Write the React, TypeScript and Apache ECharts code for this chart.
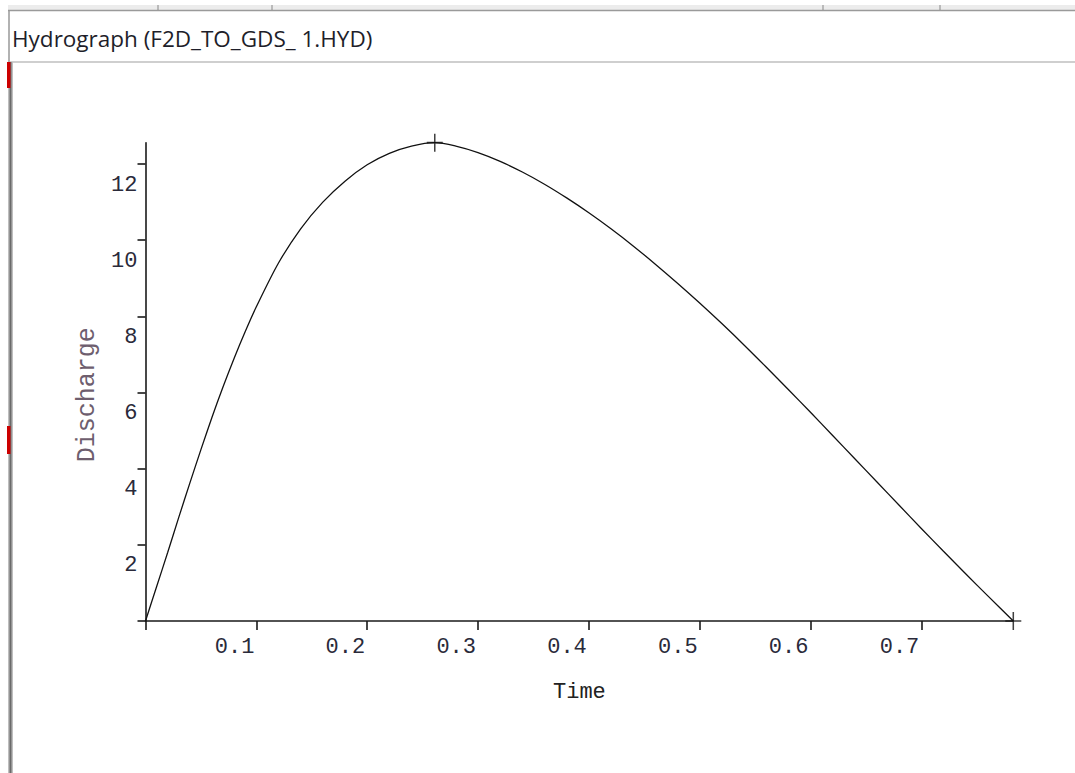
import React, { useEffect, useRef } from "react";
import * as echarts from "echarts";

const TITLE = "Hydrograph (F2D_TO_GDS_ 1.HYD)";
const X_NAME = "Time";
const Y_NAME = "Discharge";

const TIME = [
  0, 0.01, 0.02, 0.03, 0.04, 0.05, 0.06, 0.07, 0.08, 0.09, 0.1, 0.12, 0.14, 0.16, 0.18, 0.2, 0.22, 0.24,
  0.261, 0.28, 0.3, 0.32, 0.34, 0.36, 0.38, 0.4, 0.42, 0.44, 0.46, 0.48, 0.5, 0.52, 0.54, 0.56, 0.58, 0.6,
  0.62, 0.64, 0.66, 0.68, 0.7, 0.72, 0.74, 0.76, 0.783,
];
const DISCHARGE = [
  0, 0.9, 1.8, 2.72, 3.62, 4.5, 5.35, 6.15, 6.9, 7.6, 8.25, 9.4, 10.3, 11.0, 11.55, 11.98, 12.28, 12.47,
  12.56, 12.47, 12.3, 12.07, 11.79, 11.47, 11.11, 10.72, 10.3, 9.85, 9.37, 8.87, 8.35, 7.81, 7.25, 6.67, 6.08, 5.48,
  4.87, 4.26, 3.65, 3.04, 2.43, 1.83, 1.24, 0.66, 0,
];
const MARKER_TIME = [0.261, 0.783];
const MARKER_Q = [12.56, 0];

const X_TICKS = [0, 0.1, 0.2, 0.3, 0.4, 0.5, 0.6, 0.7];
const X_LABELS = [0.1, 0.2, 0.3, 0.4, 0.5, 0.6, 0.7];
const Y_TICKS = [0, 2, 4, 6, 8, 10, 12];
const Y_LABELS = [2, 4, 6, 8, 10, 12];
const X_MAX = 0.783;
const Y_MAX = 12.56;

const MONO = "'Liberation Mono', 'Courier New', monospace";

export default function App() {
  const ref = useRef<HTMLDivElement>(null);

  useEffect(() => {
    if (!ref.current) return;
    const chart = echarts.init(ref.current, undefined, { renderer: "svg" });
    const curve = TIME.map((t, i) => [t, DISCHARGE[i]]);
    const marks = MARKER_TIME.map((t, i) => [t, MARKER_Q[i]]);

    chart.setOption({
      animation: false,
      backgroundColor: "#ffffff",
      grid: { left: 145.5, top: 142.7, right: 61.7, bottom: 152, containLabel: false },
      xAxis: {
        type: "value",
        min: 0,
        max: X_MAX,
        name: X_NAME,
        nameLocation: "middle",
        nameGap: 60,
        nameTextStyle: { fontFamily: MONO, fontSize: 22, color: "#222222" },
        axisLine: { show: true, onZero: false, lineStyle: { color: "#1a1a1a", width: 1.6 } },
        axisTick: { show: true, length: 9, customValues: X_TICKS, lineStyle: { color: "#1a1a1a", width: 1.6 } },
        axisLabel: {
          customValues: X_LABELS,
          formatter: (v: number) => v.toFixed(1),
          align: "right",
          padding: [0, 2, 0, 0],
          margin: 15,
          fontFamily: MONO,
          fontSize: 22,
          color: "#2a2a3a",
        },
        splitLine: { show: false },
      },
      yAxis: {
        type: "value",
        min: 0,
        max: Y_MAX,
        name: Y_NAME,
        nameLocation: "middle",
        nameGap: 44,
        nameTextStyle: { fontFamily: MONO, fontSize: 25, color: "#6e5e6e", padding: [0, 26, 0, 0] },
        axisLine: { show: true, onZero: false, lineStyle: { color: "#1a1a1a", width: 1.6 } },
        axisTick: { show: true, length: 8, customValues: Y_TICKS, lineStyle: { color: "#1a1a1a", width: 1.6 } },
        axisLabel: {
          customValues: Y_LABELS,
          formatter: (v: number) => String(Math.round(v)),
          verticalAlign: "top",
          padding: [10, 0, 0, 0],
          margin: 8,
          fontFamily: MONO,
          fontSize: 22,
          color: "#2a2a3a",
        },
        splitLine: { show: false },
      },
      series: [
        {
          type: "line",
          data: curve,
          showSymbol: false,
          symbol: "none",
          smooth: 0.3,
          lineStyle: { color: "#111111", width: 1.3 },
          silent: true,
        },
        {
          type: "scatter",
          data: marks,
          symbol: "path://M8,0 L8,18 M0,9 L16,9",
          symbolSize: [16, 18],
          itemStyle: { color: "none", borderColor: "#111111", borderWidth: 1.6 },
          silent: true,
        },
      ],
      graphic: [
        { type: "rect", shape: { x: 8, y: 5, width: 1067, height: 5 }, style: { fill: "#ececec" }, silent: true },
        { type: "line", shape: { x1: 8, y1: 10.5, x2: 1075, y2: 10.5 }, style: { stroke: "#9a9a9a", lineWidth: 1.5 }, silent: true },
        { type: "line", shape: { x1: 158, y1: 5, x2: 158, y2: 10 }, style: { stroke: "#888888", lineWidth: 1 }, silent: true },
        { type: "line", shape: { x1: 272, y1: 5, x2: 272, y2: 10 }, style: { stroke: "#888888", lineWidth: 1 }, silent: true },
        { type: "line", shape: { x1: 823, y1: 5, x2: 823, y2: 10 }, style: { stroke: "#888888", lineWidth: 1 }, silent: true },
        { type: "line", shape: { x1: 940, y1: 5, x2: 940, y2: 10 }, style: { stroke: "#888888", lineWidth: 1 }, silent: true },
        { type: "line", shape: { x1: 9, y1: 10, x2: 9, y2: 62 }, style: { stroke: "#999999", lineWidth: 1.5 }, silent: true },
        { type: "line", shape: { x1: 10, y1: 62, x2: 1075, y2: 62 }, style: { stroke: "#a0a0a0", lineWidth: 1.2 }, silent: true },
        {
          type: "rect",
          shape: { x: 8, y: 62, width: 5, height: 711 },
          style: {
            fill: new echarts.graphic.LinearGradient(0, 0, 1, 0, [
              { offset: 0, color: "#d4d4d4" },
              { offset: 0.5, color: "#6a6a6a" },
              { offset: 1, color: "#d4d4d4" },
            ]),
          },
          silent: true,
        },
        { type: "rect", shape: { x: 7, y: 62, width: 3.5, height: 26 }, style: { fill: "#cc0000" }, silent: true },
        { type: "rect", shape: { x: 7, y: 426, width: 3.5, height: 28 }, style: { fill: "#cc0000" }, silent: true },
        {
          type: "text",
          x: 12,
          y: 38,
          style: {
            text: TITLE,
            fontFamily: "'Open Sans', 'Noto Sans', sans-serif",
            fontSize: 22.5,
            fill: "#1e1e2a",
            textVerticalAlign: "middle",
          },
          silent: true,
        },
      ],
    });

    return () => chart.dispose();
  }, []);

  return (
    <div
      ref={ref}
      style={{ position: "fixed", left: 0, top: 0, width: 1075, height: 773, background: "#ffffff" }}
    />
  );
}
